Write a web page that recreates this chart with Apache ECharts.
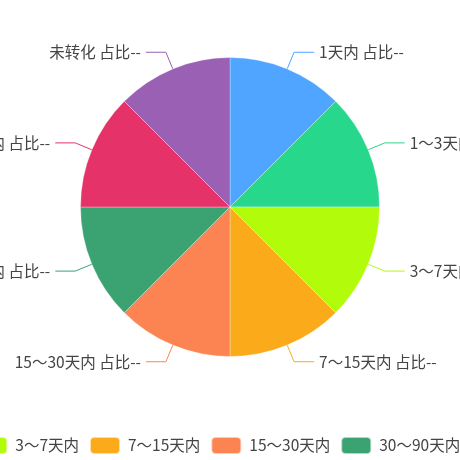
<!DOCTYPE html>
<html>
<head>
<meta charset="utf-8">
<script src="https://cdn.jsdelivr.net/npm/echarts@6/dist/echarts.min.js"></script>
<style>
  html, body { margin: 0; padding: 0; background: #fff; }
  #main { width: 460px; height: 460px; }
</style>
</head>
<body>
<div id="main"></div>
<script>
// 分类与数值（占比未知，各段相等）
var categories = ['1天内', '1～3天内', '3～7天内', '7～15天内', '15～30天内', '30～90天内', '90～180天内', '未转化'];
var values = [1, 1, 1, 1, 1, 1, 1, 1];
var colors = ['#4fa5ff', '#27d78b', '#b2fb0b', '#fbab1a', '#fc8452', '#3ba272', '#e5336a', '#9a60b4'];

var myChart = echarts.init(document.getElementById('main'));

var data = categories.map(function (name, i) {
  return { name: name, value: values[i] };
});

myChart.setOption({
  color: colors,
  textStyle: { fontFamily: 'Noto Sans CJK SC' },
  legend: {
    bottom: 0,
    left: -230,           // 一行放不下，两端被裁掉
    width: 1000,
    padding: 5,
    itemWidth: 30,
    itemHeight: 17,
    itemGap: 10,
    textStyle: {
      fontSize: 15.5,
      color: '#444',
      fontFamily: 'Noto Sans CJK SC',
      padding: [0, 0, 0, 3]
    },
    data: categories
  },
  series: [
    {
      type: 'pie',
      radius: '65%',
      center: ['50%', '45%'],
      startAngle: 90,
      clockwise: true,
      label: {
        formatter: '{b} 占比--',
        fontSize: 15.5,
        color: '#444',
        fontFamily: 'Noto Sans CJK SC',
        overflow: 'none'
      },
      labelLine: {
        length: 18,
        length2: 20
      },
      itemStyle: {
        borderColor: 'rgba(255,255,255,0.6)',
        borderWidth: 0.5
      },
      data: data
    }
  ]
});
</script>
</body>
</html>
